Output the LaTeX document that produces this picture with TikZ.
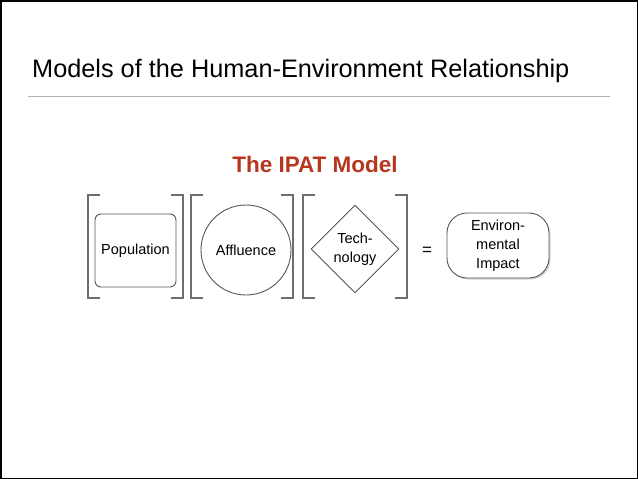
\documentclass[tikz,border=0pt]{standalone}
\usepackage{fontspec}
\setmainfont{Liberation Sans}
\usetikzlibrary{shapes.geometric,shadows}
\definecolor{ipatred}{HTML}{B7361E}
\definecolor{shapegray}{HTML}{555555}
\definecolor{rulegray}{HTML}{B0B0B0}
\tikzset{
  shapeline/.style={draw=shapegray, line width=0.9pt, fill=white},
  bracketline/.style={draw=shapegray!85, line width=1.1pt},
  lbl/.style={font=\fontsize{14.5}{19}\selectfont, align=center, text=black},
}
\begin{document}
\begin{tikzpicture}[x=1pt,y=-1pt]
\useasboundingbox (0,0) rectangle (638,479);
\draw[line width=1.5pt] (0.75,0.75) rectangle (637.25,478.25);
\node[anchor=base west, inner sep=0pt, font=\fontsize{25.3}{28}\selectfont] (title) at (32,77.5) {Models of the Human-Environment Relationship};
\coordinate (ruleL) at (28,96);
\coordinate (ruleR) at (610,96);
\draw[rulegray, line width=0.8pt] (ruleL) -- (ruleR);
\node[anchor=base, inner sep=0pt, text=ipatred, font=\fontsize{22.5}{25}\bfseries\selectfont] (ipat) at (315,172.5) {The IPAT Model};
% brackets
\foreach \l/\r in {88/183, 191/293, 303/407}{
  \draw[bracketline] (\l+12,195) -- (\l,195) -- (\l,298) -- (\l+12,298);
  \draw[bracketline] (\r-12,195) -- (\r,195) -- (\r,298) -- (\r-12,298);
}
\node[shapeline, rectangle, rounded corners=6pt, minimum width=81pt, minimum height=73pt, lbl] (pop) at (135.5,250.5) {Population};
\node[shapeline, circle, minimum size=90pt, inner sep=0pt, lbl] (aff) at (246,250) {Affluence};
\node[shapeline, diamond, minimum width=88pt, minimum height=88pt, inner sep=0pt, lbl] (tech) at (355,249) {Tech-\\nology};
\node[lbl, font=\fontsize{17}{18}\selectfont] (eq) at (427,251) {=};
\node[shapeline, rectangle, rounded corners=20pt, minimum width=102pt, minimum height=65pt, inner sep=0pt, lbl, drop shadow={shadow xshift=1.5pt, shadow yshift=-1.5pt, opacity=0.35}] (ei) at (498,245.5) {Environ-\\mental\\Impact};
\end{tikzpicture}
\end{document}
